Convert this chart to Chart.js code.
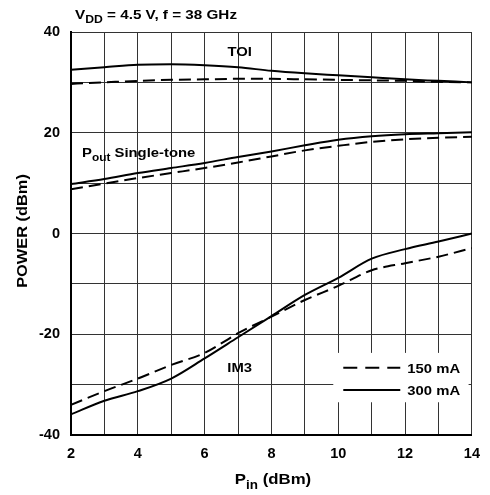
<!DOCTYPE html>
<html>
<head>
<meta charset="utf-8">
<script src="https://cdn.jsdelivr.net/npm/chart.js@4.4.1/dist/chart.umd.min.js"></script>
<style>
  html, body { margin: 0; padding: 0; background: #fff; }
  #wrap { width: 490px; height: 495px; position: relative; }
</style>
</head>
<body>
<div id="wrap"><canvas id="chart"></canvas></div>
<script>
// input power sweep (dBm)
const pin = [2, 3, 4, 5, 6, 7, 8, 9, 10, 11, 12, 13, 14];

// TOI (dBm)
const toi150 = [29.7, 30.0, 30.3, 30.5, 30.6, 30.7, 30.7, 30.6, 30.5, 30.4, 30.3, 30.1, 30.0];
const toi300 = [32.5, 33.0, 33.5, 33.6, 33.4, 33.0, 32.3, 31.8, 31.4, 31.0, 30.6, 30.3, 30.0];

// Pout single-tone (dBm)
const pout150 = [8.8, 9.9, 11.0, 12.0, 13.0, 14.1, 15.3, 16.5, 17.4, 18.2, 18.7, 19.0, 19.2];
const pout300 = [9.8, 10.8, 12.0, 13.0, 14.0, 15.2, 16.3, 17.5, 18.6, 19.3, 19.7, 19.9, 20.1];

// IM3 (dBm)
const im3_150 = [-34.0, -31.3, -28.8, -26.1, -23.7, -19.8, -16.5, -13.2, -10.4, -7.3, -5.9, -4.6, -2.9];
const im3_300 = [-35.9, -33.2, -31.3, -28.8, -24.8, -20.6, -16.4, -12.2, -8.8, -5.0, -3.1, -1.6, 0.0];

const xTicks = [2, 4, 6, 8, 10, 12, 14];
const yTicks = [-40, -20, 0, 20, 40];

const FONT = 'Liberation Sans, Arial, Helvetica, sans-serif';
const DASH = [12, 6];

function pts(ys) {
    return pin.map((x, i) => ({ x: x, y: ys[i] }));
}

function series(label, ys, dashed) {
    return {
        label: label,
        data: pts(ys),
        borderColor: '#000',
        borderWidth: 2,
        borderDash: dashed ? DASH : [],
        pointRadius: 0,
        fill: false,
        cubicInterpolationMode: 'monotone',
        tension: 0.4
    };
}

// draw text pieces (some as subscripts), stretched a bit wider like the original art
function drawParts(ctx, parts, x, y, size, align, stretch) {
    stretch = stretch || 1.15;
    ctx.save();
    ctx.textBaseline = 'alphabetic';
    ctx.textAlign = 'left';
    let total = 0;
    parts.forEach(p => {
        ctx.font = 'bold ' + (p[1] ? size * 0.8 : size) + 'px ' + FONT;
        total += ctx.measureText(p[0]).width;
    });
    total *= stretch;
    let cx = align === 'center' ? x - total / 2 : x;
    ctx.translate(cx, y);
    ctx.scale(stretch, 1);
    let ox = 0;
    parts.forEach(p => {
        ctx.font = 'bold ' + (p[1] ? size * 0.8 : size) + 'px ' + FONT;
        ctx.fillText(p[0], ox, p[1] ? size * 0.3 : 0);
        ox += ctx.measureText(p[0]).width;
    });
    ctx.restore();
}

const labelsPlugin = {
    id: 'labelsPlugin',
    afterDraw(chart) {
        const ctx = chart.ctx;
        const xs = chart.scales.x, ys = chart.scales.y;
        ctx.fillStyle = '#000';

        // title
        drawParts(ctx, [['V', false], ['DD', true], [' = 4.5 V, f = 38 GHz', false]], 75, 19, 12.5, 'left', 1.22);

        // curve labels
        drawParts(ctx, [['TOI', false]], xs.getPixelForValue(7.05), ys.getPixelForValue(35.3), 13.5, 'center', 1.1);
        drawParts(ctx, [['P', false], ['out', true], [' Single-tone', false]], 82, ys.getPixelForValue(15.1), 13.5, 'left', 1.1);
        drawParts(ctx, [['IM3', false]], xs.getPixelForValue(7.05), ys.getPixelForValue(-27.4), 13.5, 'center', 1.1);

        // axis titles
        drawParts(ctx, [['P', false], ['in', true], [' (dBm)', false]], 273, 484, 15, 'center', 1.12);
        ctx.save();
        ctx.translate(27, 231);
        ctx.rotate(-Math.PI / 2);
        drawParts(ctx, [['POWER (dBm)', false]], 0, 0, 14, 'center', 1.17);
        ctx.restore();

        // legend box
        const bx = xs.getPixelForValue(9.85), by = ys.getPixelForValue(-23.7);
        const bw = xs.getPixelForValue(13.9) - bx, bh = ys.getPixelForValue(-33.5) - by;
        ctx.save();
        ctx.fillStyle = '#fff';
        ctx.fillRect(bx, by, bw, bh);
        ctx.strokeStyle = '#000';
        ctx.lineWidth = 2;
        const lx0 = bx + 10, lx1 = bx + 67;
        const r1 = by + bh * 0.3, r2 = by + bh * 0.75;
        ctx.setLineDash([14, 8]);
        ctx.beginPath(); ctx.moveTo(lx0, r1); ctx.lineTo(lx1, r1); ctx.stroke();
        ctx.setLineDash([]);
        ctx.beginPath(); ctx.moveTo(lx0, r2); ctx.lineTo(lx1, r2); ctx.stroke();
        ctx.restore();
        ctx.fillStyle = '#000';
        drawParts(ctx, [['150 mA', false]], lx1 + 7, r1 + 5, 13.5, 'left', 1.1);
        drawParts(ctx, [['300 mA', false]], lx1 + 7, r2 + 5, 13.5, 'left', 1.1);
    }
};

new Chart(document.getElementById('chart'), {
    type: 'line',
    data: {
        datasets: [
            series('TOI 150 mA', toi150, true),
            series('TOI 300 mA', toi300, false),
            series('Pout 150 mA', pout150, true),
            series('Pout 300 mA', pout300, false),
            series('IM3 150 mA', im3_150, true),
            series('IM3 300 mA', im3_300, false)
        ]
    },
    options: {
        responsive: true,
        maintainAspectRatio: false,
        animation: false,
        layout: { padding: { top: 32, right: 15, left: 0, bottom: 0 } },
        plugins: {
            legend: { display: false },
            tooltip: { enabled: false }
        },
        scales: {
            x: {
                type: 'linear',
                min: 2, max: 14,
                afterFit: s => { s.height = 60; },
                afterBuildTicks: s => {
                    s.ticks = pin.map(v => ({ value: v }));
                },
                ticks: {
                    padding: 10,
                    color: '#000',
                    font: { family: FONT, size: 14.5, weight: 'bold' },
                    callback: v => xTicks.includes(v) ? String(v) : ''
                },
                grid: { color: '#333', lineWidth: 1, drawTicks: false },
                border: { color: '#000', width: 2 }
            },
            y: {
                min: -40, max: 40,
                afterFit: s => { s.width = 71; },
                ticks: {
                    stepSize: 10,
                    padding: 11,
                    color: '#000',
                    font: { family: FONT, size: 14.5, weight: 'bold' },
                    callback: v => yTicks.includes(v) ? String(v) : ''
                },
                grid: { color: '#333', lineWidth: 1, drawTicks: false },
                border: { color: '#000', width: 2 }
            }
        }
    },
    plugins: [labelsPlugin]
});
</script>
</body>
</html>
